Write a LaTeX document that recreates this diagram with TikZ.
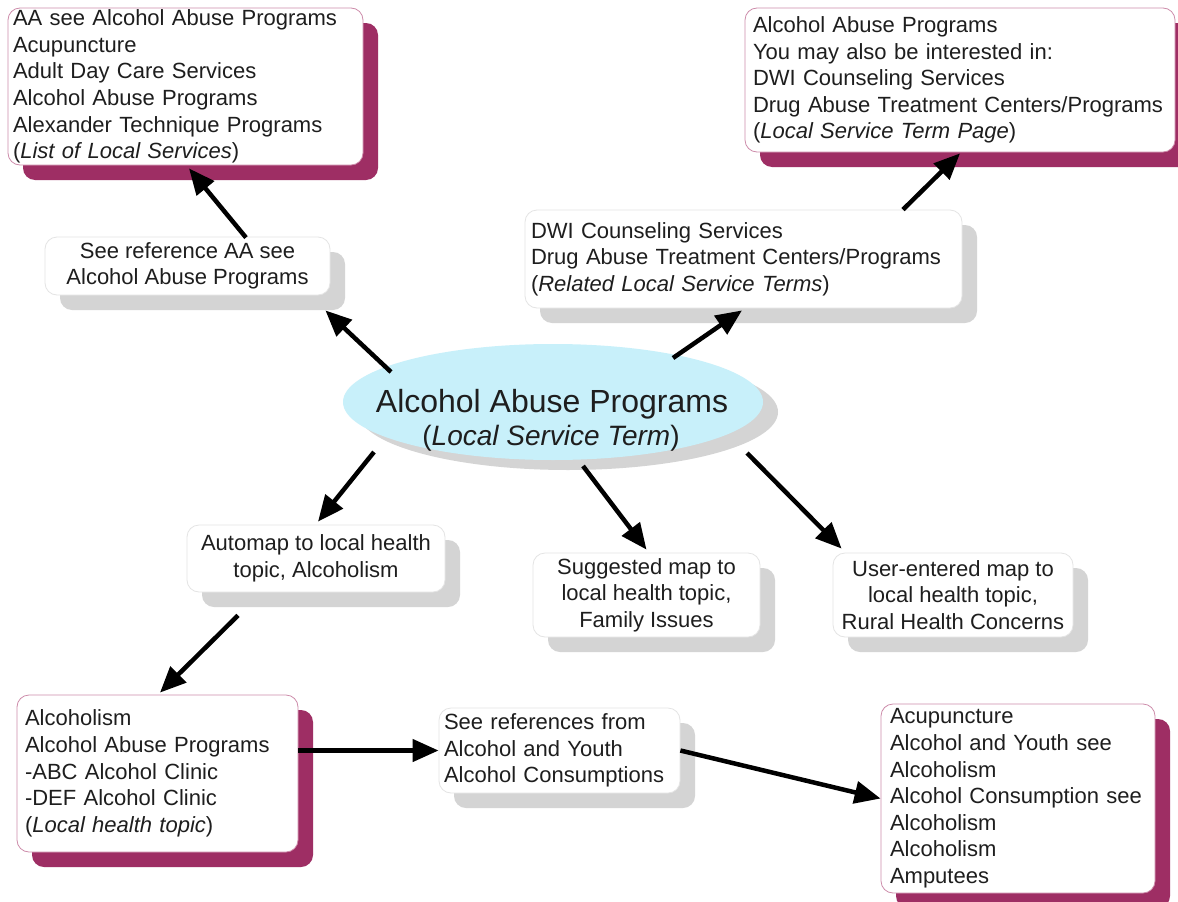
\documentclass[tikz,border=0pt]{standalone}
\usepackage{fontspec}
\setmainfont{Liberation Sans}
\usetikzlibrary{shapes.geometric,shadows,arrows.meta,calc}
\definecolor{shpurple}{RGB}{158,46,100}
\definecolor{shgray}{RGB}{212,212,212}
\definecolor{bdpurple}{RGB}{205,140,170}
\definecolor{bdgray}{RGB}{228,228,228}
\definecolor{ellfill}{RGB}{200,240,250}
\definecolor{txt}{RGB}{30,30,30}
\tikzset{
 base/.style={rectangle, rounded corners=12pt, fill=white, text=txt, font=\fontsize{22}{26.6}\selectfont, inner ysep=0pt, line width=0.8pt},
 listbox/.style={base, draw=bdpurple, align=left, drop shadow={shadow xshift=15pt,shadow yshift=-15pt,fill=shpurple,opacity=1}},
 notebox/.style={base, draw=bdgray, drop shadow={shadow xshift=15pt,shadow yshift=-15pt,fill=shgray,opacity=1}},
 ellipsetext/.style={text=txt, inner sep=0pt, anchor=base},
 arr/.style={line width=4.5pt, -{Triangle[length=26pt,width=22pt]}, black},
}
\begin{document}
\begin{tikzpicture}[x=1pt,y=-1pt]
\fill[white] (0,0) rectangle (1178,902);
\useasboundingbox (0,0) rectangle (1178,902);

\node[listbox, inner xsep=5pt, text width=345pt, minimum height=157pt] (A) at (185.5,86.5)
 {AA see Alcohol Abuse Programs\\Acupuncture\\Adult Day Care Services\\Alcohol Abuse Programs\\Alexander Technique Programs\\(\textit{List of Local Services})};

\node[listbox, inner xsep=8pt, text width=414pt, minimum height=144pt] (B) at (960,80)
 {Alcohol Abuse Programs\\You may also be interested in:\\DWI Counseling Services\\Drug Abuse Treatment Centers/Programs\\(\textit{Local Service Term Page})};

\node[notebox, align=center, minimum width=285pt, minimum height=58pt] (C) at (187.5,266)
 {See reference AA see\\Alcohol Abuse Programs};

\node[notebox, align=left, inner xsep=6pt, text width=425pt, minimum height=98pt] (D) at (743.5,259)
 {DWI Counseling Services\\Drug Abuse Treatment Centers/Programs\\(\textit{Related Local Service Terms})};

\node[ellipse, fill=ellfill, minimum width=420pt, minimum height=116pt, inner sep=0pt,
  drop shadow={shadow xshift=15pt,shadow yshift=-10pt,fill=shgray,opacity=1}] (E) at (553,402) {};
\node[ellipsetext, font=\fontsize{32}{36}\selectfont] (E1) at (552,412) {Alcohol Abuse Programs};
\node[ellipsetext, font=\fontsize{28}{32}\selectfont] (E2) at (551,445) {(\textit{Local Service Term})};

\node[notebox, align=center, minimum width=258pt, minimum height=67pt] (F) at (316,558.5)
 {Automap to local health\\topic, Alcoholism};

\node[notebox, align=center, minimum width=227pt, minimum height=84pt] (G) at (646.5,595)
 {Suggested map to\\local health topic,\\Family Issues};

\node[notebox, align=center, minimum width=240pt, minimum height=84pt] (H) at (953,595)
 {User-entered map to\\local health topic,\\Rural Health Concerns};

\node[listbox, inner xsep=8pt, text width=265pt, minimum height=157pt] (I) at (157.5,773.5)
 {Alcoholism\\Alcohol Abuse Programs\\-ABC Alcohol Clinic\\-DEF Alcohol Clinic\\(\textit{Local health topic})};

\node[notebox, align=left, inner xsep=5pt, text width=231pt, minimum height=85pt] (J) at (559.5,750.5)
 {See references from\\Alcohol and Youth\\Alcohol Consumptions};

\node[listbox, inner xsep=9pt, text width=256pt, minimum height=189pt] (K) at (1018,798.5)
 {Acupuncture\\Alcohol and Youth see\\Alcoholism\\Alcohol Consumption see\\Alcoholism\\Alcoholism\\Amputees};

\draw[arr] ($(E.center)+(-162,-30)$) -- ($(C.south east)+(-5,15)$);
\draw[arr] ($(C.north)+(58.5,1)$) -- ($(A.south)+(3.5,3)$);
\draw[arr] ($(E.center)+(120,-44)$) -- ($(D.south)+(-1.5,2)$);
\draw[arr] ($(D.north)+(159.5,0)$) -- ($(B.south)+(0,1)$);
\draw[arr] ($(E.center)+(-179,50)$) -- ($(F.north)+(2,-3)$);
\draw[arr] ($(E.center)+(30,64)$) -- ($(G.north)+(0,-3)$);
\draw[arr] ($(E.center)+(194,51)$) -- ($(H.north west)+(9,-4)$);
\draw[arr] ($(F.south)+(-78,23)$) -- ($(I.north)+(2.5,-2)$);
\draw[arr] (I.east |- J.west) -- (J.west);
\draw[arr] (J.east) -- (K.west);
\end{tikzpicture}
\end{document}
